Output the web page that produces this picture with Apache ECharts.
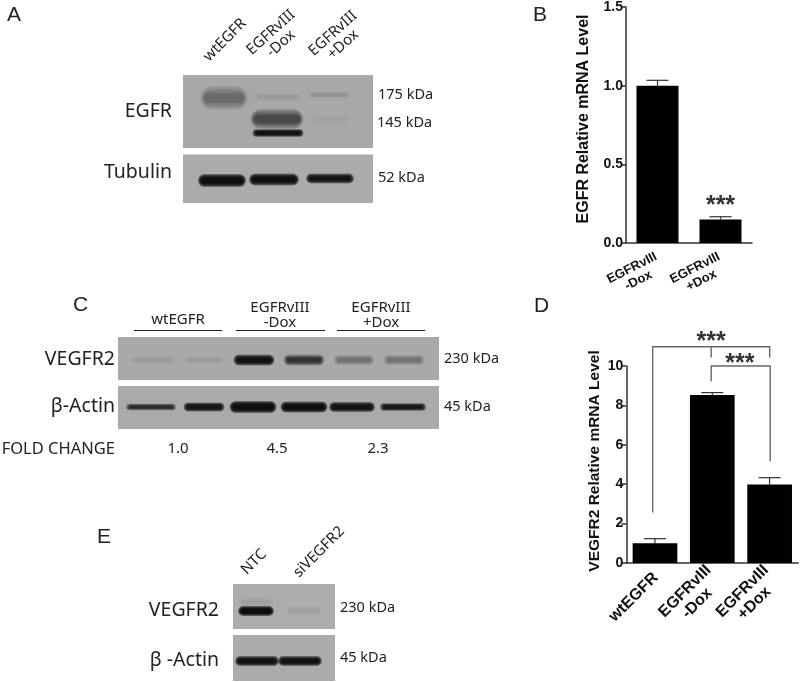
<!DOCTYPE html>
<html>
<head>
<meta charset="utf-8">
<title>EGFR VEGFR2 panels</title>
<style>
  html, body { margin: 0; padding: 0; background: #fff; }
  #chart-container { width: 800px; height: 682px; }
</style>
<script src="https://cdn.jsdelivr.net/npm/echarts@6/dist/echarts.min.js"></script>
</head>
<body>
<div id="chart-container"></div>
<script>
var dom = document.getElementById("chart-container");
var myChart = echarts.init(dom, null, { renderer: "canvas" });

// bar panels
const egfrCategories = ["EGFRvIII\n-Dox", "EGFRvIII\n+Dox"];
const egfrLevels = [1.0, 0.15];
const egfrErrors = [0.034, 0.017];

const vegfrCategories = ["wtEGFR", "EGFRvIII\n-Dox", "EGFRvIII\n+Dox"];
const vegfrLevels = [1.0, 8.53, 3.99];
const vegfrErrors = [0.235, 0.12, 0.34];

// [from, to, height, left foot, right foot]
const vegfrBrackets = [
  [-0.04, 2.0, 10.98, 2.56, 10.43],
  [0.98, 2.01, 10, 9.23, 5.16],
];
const vegfrMidTick = [0.98, 10.98, 10.43];
// [x, value]
const vegfrStars = [[0.98, 11.86], [1.48, 10.75]];
const egfrStars = [[1, 0.314]];

// blot bands: [lane position, migration, spread, thickness, signal]
const egfrBands = [
  [41, 23, 44, 22, 0.38],
  [95, 22, 44, 7, 0.08],
  [94, 44, 50, 18, 0.6],
  [95, 58, 48, 7, 0.94],
  [146, 20, 40, 6, 0.1],
  [148, 44, 38, 8, 0.035],
];
const tubulinBands = [
  [39, 26, 45, 12, 0.96],
  [91, 25, 47, 11, 0.95],
  [147, 24, 45, 9, 0.93],
];
const vegfrBands = [
  [35, 23, 40, 7, 0.07],
  [86, 23, 38, 7, 0.06],
  [136, 23, 38, 10, 0.94],
  [186, 23, 38, 10, 0.72],
  [236, 23, 38, 9, 0.33],
  [286, 23, 38, 9, 0.3],
];
const actinBands = [
  [33, 21, 47, 6, 0.8],
  [86, 21, 38, 8, 0.93],
  [135, 21, 44, 11, 0.96],
  [186, 21, 44, 10, 0.96],
  [234, 21, 43, 9, 0.94],
  [285, 21, 43, 7, 0.9],
];
const sirnaBands = [
  [23, 18, 32, 10, 0.05],
  [23, 27, 33, 9, 0.97],
  [71, 27, 34, 8, 0.06],
];
const sirnaActinBands = [
  [24, 26, 41, 9, 0.94],
  [67, 26, 41, 9, 0.94],
];

const panelLetters = ["A", "B", "C", "D", "E"];
const foldChanges = ["1.0", "4.5", "2.3"];

const blotFont = '"Noto Sans", sans-serif';
const chartFont = '"Liberation Sans", Arial, sans-serif';
const axisColor = "#333";

const blots = [
  { box: [183, 75, 190, 73], bands: egfrBands, bg: "#a8a8a8" },
  { box: [183, 154.5, 190, 48.5], bands: tubulinBands, bg: "#ababab" },
  { box: [118, 337, 321, 43], bands: vegfrBands, bg: "#a9a9a9" },
  { box: [118, 386, 321, 43], bands: actinBands, bg: "#aaaaaa" },
  { box: [233, 584, 102, 45], bands: sirnaBands, bg: "#adadad" },
  { box: [233, 635, 102, 46], bands: sirnaActinBands, bg: "#ababab" },
];

const grids = [
  { left: 626, top: 7, width: 126, height: 236, outerBoundsMode: "none" },
  { left: 626.3, top: 366, width: 172, height: 197, outerBoundsMode: "none" },
];
const xAxes = [
  barXAxis(0, egfrCategories, 27, 13, [0, 50, 0, 0], 20),
  { gridIndex: 0, type: "value", min: -0.5, max: 1.5, show: false },
  barXAxis(1, vegfrCategories, 45, 16, [0, 60, 0, 0], 13),
  { gridIndex: 1, type: "value", min: -0.5, max: 2.5, show: false },
];
const yAxes = [
  barYAxis(0, "EGFR Relative mRNA Level", 0, 1.5, 0.5, 34, 16, 12, (v) => v.toFixed(1)),
  barYAxis(1, "VEGFR2 Relative mRNA Level", 0, 10, 2, 24, 15.5, 7, (v) => v),
];

function barXAxis(gridIndex, data, rotate, fontSize, padding, margin) {
  return {
    gridIndex,
    type: "category",
    data,
    axisLine: { lineStyle: { color: axisColor, width: 1.5 } },
    axisTick: { alignWithLabel: true, length: 4, lineStyle: { color: axisColor, width: 1.5 } },
    axisLabel: {
      rotate,
      margin,
      padding,
      align: "center",
      verticalAlign: "middle",
      interval: 0,
      color: "#111",
      fontFamily: chartFont,
      fontWeight: "bold",
      fontSize,
      lineHeight: fontSize + 1,
    },
  };
}

function barYAxis(gridIndex, name, min, max, interval, nameGap, nameSize, namePad, formatter) {
  return {
    gridIndex,
    type: "value",
    name,
    nameLocation: "middle",
    nameGap,
    nameTextStyle: {
      color: "#111",
      fontFamily: chartFont,
      fontWeight: "bold",
      fontSize: nameSize,
      padding: [0, 0, 0, namePad],
    },
    min,
    max,
    interval,
    splitLine: { show: false },
    axisLine: { show: true, onZero: false, lineStyle: { color: axisColor, width: 1.5 } },
    axisTick: { show: true, length: 5, lineStyle: { color: axisColor, width: 1.5 } },
    axisLabel: {
      margin: 3,
      color: "#111",
      fontFamily: chartFont,
      fontWeight: "bold",
      fontSize: 14,
      formatter,
    },
  };
}

// soft band: a stack of see-through rounded rects, wide and faint to narrow
const bandLayers = 7;
function bandShape(c, s, signal) {
  const alpha = 1 - Math.pow(1 - Math.min(signal, 0.99), 1 / bandLayers);
  const children = [];
  for (let k = 0; k < bandLayers; k++) {
    const f = k / (bandLayers - 1);
    const w = s[0] + 3 - f * 8;
    const h = s[1] * (1.1 - f * 0.75);
    children.push({
      type: "rect",
      shape: { x: c[0] - w / 2, y: c[1] - h / 2, width: w, height: h, r: h / 2 },
      style: { fill: "rgba(8,8,8," + alpha + ")" },
    });
  }
  return { type: "group", children };
}

// every blot gets its own grid, 1 unit = 1px of membrane
const blotSeries = blots.map((b, i) => {
  grids.push({
    left: b.box[0],
    top: b.box[1],
    width: b.box[2],
    height: b.box[3],
    show: true,
    backgroundColor: b.bg,
    borderWidth: 0,
    outerBoundsMode: "none",
  });
  xAxes.push({ gridIndex: i + 2, type: "value", min: 0, max: b.box[2], show: false });
  yAxes.push({ gridIndex: i + 2, type: "value", min: 0, max: b.box[3], inverse: true, show: false });
  return {
    type: "custom",
    xAxisIndex: xAxes.length - 1,
    yAxisIndex: yAxes.length - 1,
    silent: true,
    data: b.bands,
    renderItem: (params, api) => {
      const c = api.coord([api.value(0), api.value(1)]);
      const s = api.size([api.value(2), api.value(3)]);
      return bandShape(c, s, api.value(4));
    },
  };
});

function errorSeries(levels, errors, xAxisIndex, yAxisIndex) {
  return {
    type: "custom",
    xAxisIndex,
    yAxisIndex,
    silent: true,
    z: 1,
    data: levels.map((v, i) => [i, v, v + errors[i]]),
    renderItem: (params, api) => {
      const a = api.coord([api.value(0), api.value(1)]);
      const b = api.coord([api.value(0), api.value(2)]);
      const st = { stroke: axisColor, lineWidth: 1.2 };
      return {
        type: "group",
        children: [
          { type: "line", shape: { x1: a[0], y1: a[1], x2: b[0], y2: b[1] }, style: st },
          { type: "line", shape: { x1: b[0] - 11, y1: b[1], x2: b[0] + 11, y2: b[1] }, style: st },
        ],
      };
    },
  };
}

function starSeries(stars, xAxisIndex, yAxisIndex) {
  return {
    type: "custom",
    xAxisIndex,
    yAxisIndex,
    silent: true,
    data: stars,
    renderItem: (params, api) => {
      const c = api.coord([api.value(0), api.value(1)]);
      return {
        type: "text",
        style: {
          x: c[0],
          y: c[1],
          text: "***",
          textAlign: "center",
          textVerticalAlign: "top",
          fill: "#333",
          font: "bold 25px " + chartFont,
        },
      };
    },
  };
}

const bracketSeries = {
  type: "custom",
  xAxisIndex: 3,
  yAxisIndex: 1,
  silent: true,
  z: 3,
  data: vegfrBrackets,
  renderItem: (params, api) => {
    const h = api.value(2);
    const pts = [
      api.coord([api.value(0), api.value(3)]),
      api.coord([api.value(0), h]),
      api.coord([api.value(1), h]),
      api.coord([api.value(1), api.value(4)]),
    ];
    return {
      type: "polyline",
      shape: { points: pts },
      style: { stroke: "#666", lineWidth: 1.4, fill: null },
    };
  },
};

const midTickSeries = {
  type: "custom",
  xAxisIndex: 3,
  yAxisIndex: 1,
  silent: true,
  data: [vegfrMidTick],
  renderItem: (params, api) => {
    const a = api.coord([api.value(0), api.value(1)]);
    const b = api.coord([api.value(0), api.value(2)]);
    return {
      type: "line",
      shape: { x1: a[0], y1: a[1], x2: b[0], y2: b[1] },
      style: { stroke: "#666", lineWidth: 1.4 },
    };
  },
};

function barSeries(data, width, xAxisIndex, yAxisIndex) {
  return {
    type: "bar",
    xAxisIndex,
    yAxisIndex,
    data,
    barWidth: width,
    silent: true,
    z: 2,
    itemStyle: { color: "#000" },
  };
}

// labels around the blots
function text(x, y, str, font, align, rotate, lineHeight) {
  return {
    type: "text",
    x,
    y,
    rotation: rotate ? (rotate * Math.PI) / 180 : 0,
    silent: true,
    style: {
      text: str,
      fill: "#222",
      font,
      textAlign: align || "left",
      textVerticalAlign: "middle",
      lineHeight,
    },
  };
}
const big = "19.5px " + blotFont;
const kda = "14.5px " + blotFont;
const lane = "15px " + blotFont;
const letter = "21px " + chartFont;
const graphics = [
  text(7, 15, panelLetters[0], letter),
  text(533, 15, panelLetters[1], letter),
  text(73, 305, panelLetters[2], letter),
  text(534, 306, panelLetters[3], letter),
  text(97, 537, panelLetters[4], letter),

  text(225, 40, "wtEGFR", lane, "center", 45),
  text(276, 38, "EGFRvIII\n-Dox", lane, "center", 42, 15),
  text(338, 39, "EGFRvIII\n+Dox", lane, "center", 42, 15),
  text(172, 111, "EGFR", big, "right"),
  text(172, 172, "Tubulin", big, "right"),
  text(378, 95, "175 kDa", kda),
  text(377, 123, "145 kDa", kda),
  text(378, 178, "52 kDa", kda),

  text(178, 320, "wtEGFR", lane, "center"),
  text(280, 315, "EGFRvIII\n-Dox", lane, "center", 0, 15),
  text(381, 315, "EGFRvIII\n+Dox", lane, "center", 0, 15),
  text(115, 359, "VEGFR2", big, "right"),
  text(115, 406, "β-Actin", big, "right"),
  text(444, 359, "230 kDa", kda),
  text(444, 407, "45 kDa", kda),
  text(115, 449, "FOLD CHANGE", "16.5px " + blotFont, "right"),
  text(178, 449, foldChanges[0], lane, "center"),
  text(277, 449, foldChanges[1], lane, "center"),
  text(378, 449, foldChanges[2], lane, "center"),

  text(254, 562, "NTC", lane, "center", 45),
  text(319, 552, "siVEGFR2", lane, "center", 45),
  text(219, 610, "VEGFR2", big, "right"),
  text(219, 660, "β -Actin", big, "right"),
  text(340, 608, "230 kDa", kda),
  text(340, 658, "45 kDa", kda),
];
// group underlines in panel C
[[134, 222], [236, 325], [337, 425]].forEach((s) => {
  graphics.push({
    type: "line",
    silent: true,
    shape: { x1: s[0], y1: 330.5, x2: s[1], y2: 330.5 },
    style: { stroke: "#222", lineWidth: 1 },
  });
});

var option = {
  animation: false,
  backgroundColor: "#fff",
  grid: grids,
  xAxis: xAxes,
  yAxis: yAxes,
  graphic: graphics,
  series: [
    errorSeries(egfrLevels, egfrErrors, 0, 0),
    barSeries(egfrLevels, 42, 0, 0),
    starSeries(egfrStars, 0, 0),
    errorSeries(vegfrLevels, vegfrErrors, 2, 1),
    barSeries(vegfrLevels, 44.7, 2, 1),
    bracketSeries,
    midTickSeries,
    starSeries(vegfrStars, 3, 1),
    ...blotSeries,
  ],
};

if (option && typeof option === "object") {
  myChart.setOption(option);
}

window.addEventListener("resize", myChart.resize);
</script>
</body>
</html>
